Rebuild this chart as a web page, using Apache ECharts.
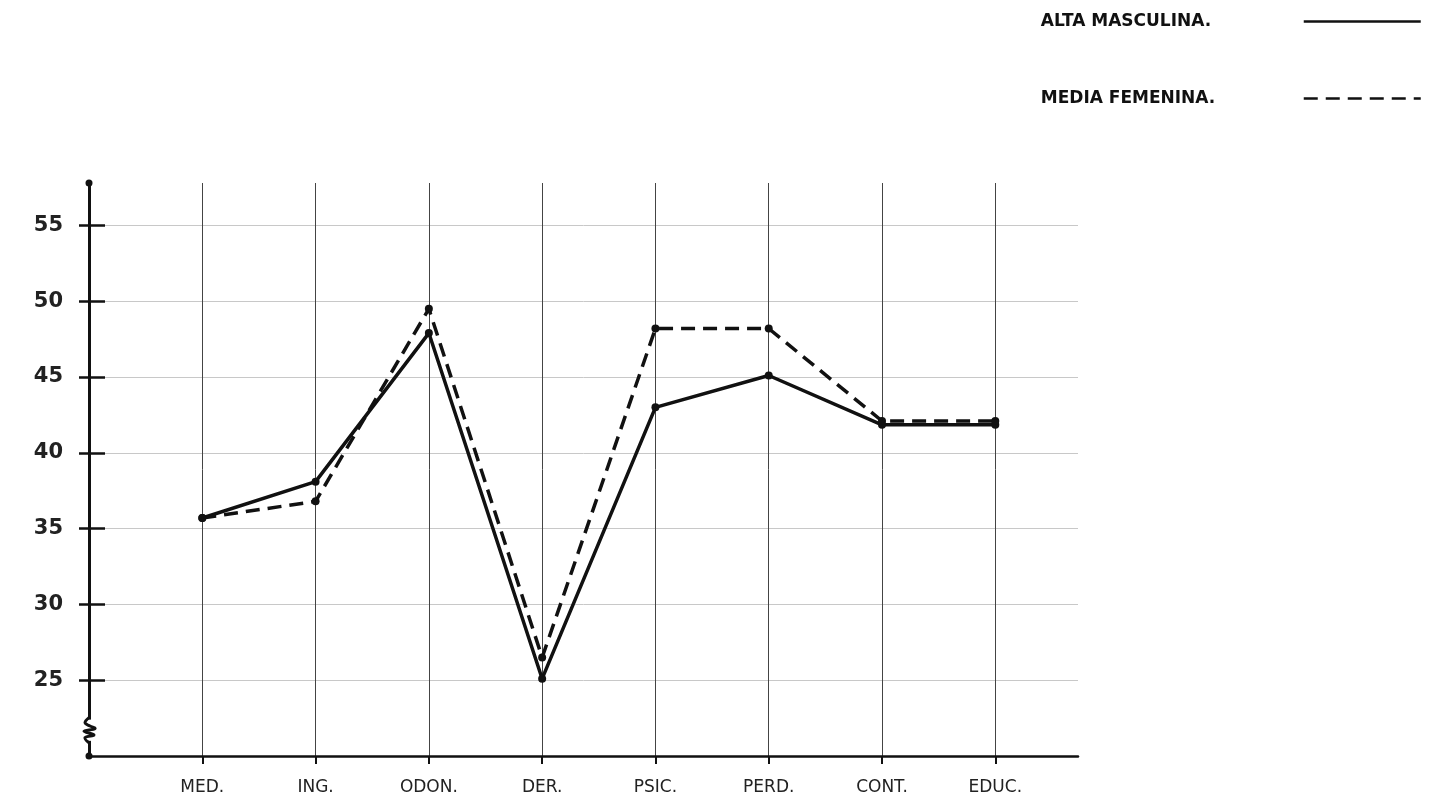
<!DOCTYPE html>
<html>
<head>
<meta charset="utf-8">
<script src="https://cdn.jsdelivr.net/npm/echarts@6/dist/echarts.min.js"></script>
<style>
html,body{margin:0;padding:0;background:#fff;}
#chart{width:1437px;height:804px;}
</style>
</head>
<body>
<div id="chart"></div>
<script>
const categories = ['MED.', 'ING.', 'ODON.', 'DER.', 'PSIC.', 'PERD.', 'CONT.', 'EDUC.'];
const altaMasculina = [35.7, 38.1, 47.9, 25.1, 43.0, 45.1, 41.85, 41.85];
const mediaFemenina = [35.7, 36.8, 49.5, 26.5, 48.2, 48.2, 42.1, 42.1];
const yTicks = [25, 30, 35, 40, 45, 50, 55];
const seriesNames = ['ALTA MASCULINA.', 'MEDIA FEMENINA.'];

const xPositions = categories.map((c, i) => i + 1);
const pairs = arr => arr.map((v, i) => [xPositions[i], v]);

const chart = echarts.init(document.getElementById('chart'));
const labelFont = 'DejaVu Sans';
const yAxisBase = {
  type: 'value', min: 20, max: 57.8, position: 'left'
};
chart.setOption({
  backgroundColor: '#ffffff',
  animation: false,
  grid: { left: 89, right: 359, top: 183, bottom: 48 },
  legend: {
    orient: 'vertical',
    right: 10,
    top: 8,
    align: 'right',
    itemGap: 60,
    itemWidth: 117,
    itemHeight: 16,
    itemStyle: { opacity: 0 },
    lineStyle: { width: 2.5 },
    formatter: name => '{t|' + name + '}',
    textStyle: {
      rich: {
        t: { fontFamily: labelFont, fontSize: 17, fontWeight: 'bold', color: '#111', width: 258, align: 'left' }
      }
    },
    data: seriesNames
  },
  xAxis: {
    type: 'value',
    min: 0,
    max: 8.73,
    interval: 1,
    axisLine: { show: true, lineStyle: { color: '#111', width: 2.5 } },
    axisTick: { show: true, length: 8, customValues: xPositions, lineStyle: { color: '#111', width: 2 } },
    axisLabel: {
      customValues: xPositions,
      formatter: v => categories[Math.round(v) - 1] || '',
      margin: 23, fontFamily: labelFont, fontSize: 17, color: '#222'
    },
    splitLine: { show: true, showMinLine: true, showMaxLine: true, lineStyle: { color: '#444', width: 1 } }
  },
  yAxis: [
    Object.assign({}, yAxisBase, {
      axisLine: { show: true, symbol: ['circle', 'circle'], symbolSize: [7, 7], lineStyle: { color: '#111', width: 3 } },
      axisTick: { show: true, length: 10, customValues: yTicks, lineStyle: { color: '#111', width: 2.5 } },
      axisLabel: {
        customValues: yTicks, margin: 26,
        fontFamily: labelFont, fontSize: 21, fontWeight: 'bold', color: '#222'
      },
      splitLine: { show: true, showMinLine: true, showMaxLine: true, lineStyle: { color: '#c8c8c8', width: 1 } }
    }),
    Object.assign({}, yAxisBase, {
      axisLine: { show: false },
      axisTick: { show: true, inside: true, length: 16, customValues: yTicks, lineStyle: { color: '#111', width: 2.5 } },
      axisLabel: { show: false },
      splitLine: { show: false }
    })
  ],
  series: [
    {
      name: seriesNames[0],
      type: 'line',
      data: pairs(altaMasculina),
      symbol: 'circle',
      symbolSize: 8,
      itemStyle: { color: '#111' },
      lineStyle: { color: '#111', width: 3.5, type: 'solid' },
      z: 3
    },
    {
      name: seriesNames[1],
      type: 'line',
      data: pairs(mediaFemenina),
      symbol: 'circle',
      symbolSize: 8,
      itemStyle: { color: '#111' },
      lineStyle: { color: '#111', width: 3.5, type: [14, 8] },
      z: 4
    }
  ]
});

// axis-break squiggle on the y axis (decoration), positioned from the axis scale
const p0 = chart.convertToPixel({ xAxisIndex: 0, yAxisIndex: 0 }, [0, 22.4]);
const p1 = chart.convertToPixel({ xAxisIndex: 0, yAxisIndex: 0 }, [0, 21.0]);
const ax = p0[0], ya = p0[1], yb = p1[1];
const h = yb - ya;
chart.setOption({
  graphic: [
    { type: 'rect', z: 100, shape: { x: ax - 3, y: ya, width: 6, height: h }, style: { fill: '#fff' } },
    {
      type: 'polyline', z: 101,
      shape: {
        points: [
          [ax, ya - 2], [ax - 4, ya + h * 0.15], [ax + 1, ya + h * 0.3], [ax + 6, ya + h * 0.42],
          [ax - 5, ya + h * 0.55], [ax + 5, ya + h * 0.72], [ax - 4, ya + h * 0.85], [ax, yb + 2]
        ],
        smooth: 0.4
      },
      style: { stroke: '#111', lineWidth: 3, fill: 'none' }
    }
  ]
});
</script>
</body>
</html>
